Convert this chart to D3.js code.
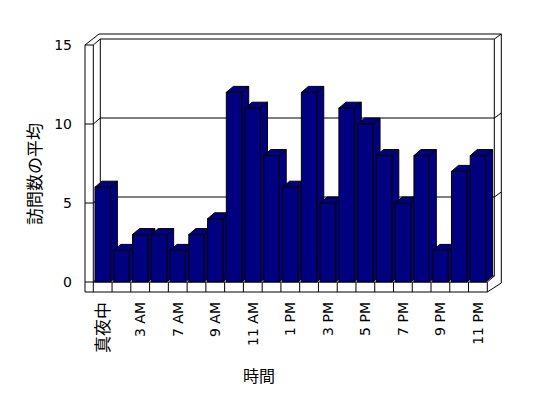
<!DOCTYPE html>
<html>
<head>
<meta charset="utf-8">
<script src="https://cdn.jsdelivr.net/npm/d3@7"></script>
<style>
  html, body { margin: 0; padding: 0; background: #fff; }
  svg { display: block; }
  text { -webkit-font-smoothing: antialiased; }
</style>
</head>
<body>
<svg id="chart" width="548" height="398"></svg>
<script>
// ---- data ----
const categories = ["真夜中", "1 AM", "3 AM", "5 AM", "7 AM", "8 AM", "9 AM", "10 AM", "11 AM", "12 PM",
  "1 PM", "2 PM", "3 PM", "4 PM", "5 PM", "6 PM", "7 PM", "8 PM", "9 PM", "10 PM", "11 PM"];
const values = [6, 2, 3, 3, 2, 3, 4, 12, 11, 8, 6, 12, 5, 11, 10, 8, 5, 8, 2, 7, 8];
const yTicks = [0, 5, 10, 15];
const yTitle = "訪問数の平均";
const xTitle = "時間";

// ---- layout ----
const svg = d3.select("#chart");
const X0 = 93.3, X1 = 487.3;     // front plane floor extent
const Y0 = 282, Y15 = 45;        // front plane value range
const WALL_L = 85;               // left wall outer x
const FLOOR_B = 292;             // floor bottom
const DX1 = 7, DY1 = -6;         // depth offset to back-wall face
const DX2 = 14, DY2 = -11;       // depth offset to back-wall rear
const navy = "#000080";

const x = d3.scaleBand().domain(categories).range([X0, X1]).paddingInner(0.18).paddingOuter(0.09);
const y = d3.scaleLinear().domain([0, 15]).range([Y0, Y15]);
const step = x.step();

const g = svg.append("g");
const line = (pts) => "M" + pts.map(p => p.join(",")).join("L");

const boxStyle = s => s.attr("fill", "none").attr("stroke", "#000").attr("stroke-width", 1);
// outer contour
g.append("path").call(boxStyle).attr("d",
  line([[WALL_L, FLOOR_B], [WALL_L, y(15)], [WALL_L + DX2, y(15) + DY2], [X1 + DX2, y(15) + DY2],
        [X1 + DX2, Y0 + 1], [X1, FLOOR_B], [WALL_L, FLOOR_B]]));
// left wall inner edge + back wall top
g.append("path").call(boxStyle).attr("d",
  line([[X0, FLOOR_B], [X0, y(15)], [X0 + DX1, y(15) + DY1], [X1 + DX1, y(15) + DY1], [X1 + DX1, Y0 + DY1]]));
g.append("path").call(boxStyle).attr("d", line([[WALL_L, y(15)], [X0, y(15)]]));
// back wall left edge
g.append("path").call(boxStyle).attr("d", line([[X0 + DX1, y(15) + DY1], [X0 + DX1, Y0 + DY1]]));
// top-right corner diagonal
g.append("path").call(boxStyle).attr("d", line([[X1 + DX1, y(15) + DY1], [X1 + DX2, y(15) + DY2]]));
// floor
g.append("path").call(boxStyle).attr("d", line([[X0, Y0], [X1, Y0], [X1, FLOOR_B]]));
g.append("path").call(boxStyle).attr("d", line([[X1, Y0], [X1 + DX1, Y0 + DY1]]));
g.append("path").call(boxStyle).attr("d", line([[X0, Y0], [X0 + DX1, Y0 + DY1], [X1 + DX1, Y0 + DY1]]));

// gridlines + ticks
yTicks.filter(t => t > 0 && t < 15).forEach(t => {
  const yy = y(t);
  g.append("path").call(boxStyle).attr("d",
    line([[WALL_L, yy], [X0, yy], [X0 + DX1, yy + DY1], [X1 + DX1, yy + DY1], [X1 + DX2, yy + DY2]]));
});
g.append("path").call(boxStyle).attr("d", line([[WALL_L, y(0)], [X0, y(0)]]));

// floor cell dividers
categories.forEach((c, i) => {
  if (i === 0) return;
  const xx = X0 + i * step;
  g.append("line").attr("x1", xx).attr("x2", xx).attr("y1", Y0).attr("y2", FLOOR_B)
    .attr("stroke", "#000").attr("stroke-width", 1);
});

// bars
const bars = g.append("g");
categories.forEach((c, i) => {
  const xl = x(c), xr = x(c) + x.bandwidth(), yv = y(values[i]), yb = y(0);
  const bg = bars.append("g").attr("fill", navy).attr("stroke", "#000").attr("stroke-width", 1)
    .attr("stroke-linejoin", "miter");
  bg.append("path").attr("d", line([[xr, yb], [xr, yv], [xr + DX1, yv + DY1], [xr + DX1, yb + DY1]]) + "Z");
  bg.append("path").attr("d", line([[xl, yv], [xr, yv], [xr + DX1, yv + DY1], [xl + DX1, yv + DY1]]) + "Z");
  bg.append("rect").attr("x", xl).attr("y", yv).attr("width", x.bandwidth()).attr("height", yb - yv);
});

// y tick labels
const numFont = "'DejaVu Sans', sans-serif";
const jpFont = "'Noto Sans CJK JP', sans-serif";
yTicks.forEach(t => {
  svg.append("text").attr("x", 72).attr("y", y(t)).attr("dy", "0.36em")
    .attr("text-anchor", "end").attr("font-family", numFont).attr("font-size", 14)
    .attr("fill", "#000").text(t);
});

// category labels (every other)
const catLabels = svg.append("g").attr("opacity", 0.999);
categories.forEach((c, i) => {
  if (i % 2 !== 0) return;
  const cx = x(c) + x.bandwidth() / 2;
  const isJp = /[^\x00-\x7F]/.test(c);
  catLabels.append("text")
    .attr("transform", `translate(${cx},${302}) rotate(-90)`)
    .attr("dy", "0.36em")
    .attr("text-anchor", "end")
    .attr("fill", "#000")
    .attr("font-family", isJp ? jpFont : numFont)
    .attr("font-size", isJp ? 17 : 14)
    .text(c);
});

// axis titles
svg.append("text").attr("transform", "translate(35,174) rotate(-90)")
  .attr("text-anchor", "middle").attr("dy", "0.36em").attr("fill", "#000")
  .attr("font-family", jpFont).attr("font-size", 17).text(yTitle);
svg.append("text").attr("x", 259).attr("y", 376).attr("dy", "0.36em").attr("fill", "#000")
  .attr("text-anchor", "middle").attr("font-family", jpFont).attr("font-size", 16).text(xTitle);
</script>
</body>
</html>
